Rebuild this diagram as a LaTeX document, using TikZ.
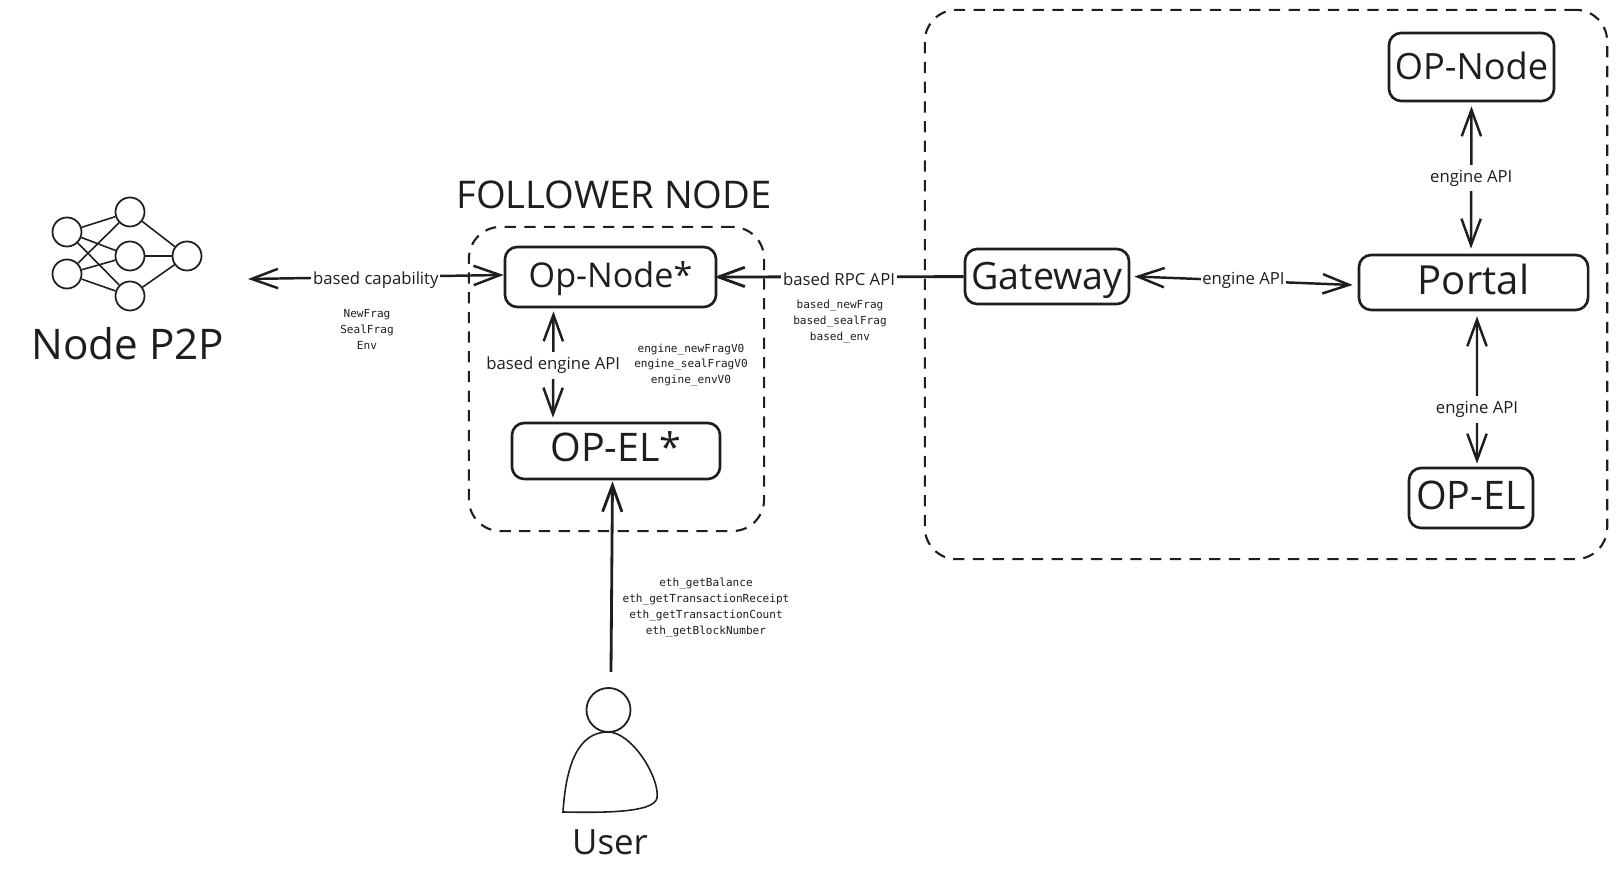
\documentclass[tikz,border=0pt]{standalone}
\usepackage{fontspec}
\setmainfont{Open Sans}
\setmonofont{DejaVu Sans Mono}
\usetikzlibrary{arrows.meta}
\definecolor{inkcolour}{HTML}{1E1E1E}

\begin{document}
\begin{tikzpicture}[
    x=0.01cm, y=-0.01cm,
    box/.style={
        rectangle,
        draw=inkcolour, line width=0.75pt, rounded corners=3.5pt,
        text=inkcolour, inner sep=0pt, text depth=0pt
    },
    group/.style={
        rectangle,
        draw=inkcolour, line width=0.6pt, rounded corners=9pt,
        dash pattern=on 3.2pt off 2.4pt, inner sep=0pt
    },
    neuron/.style={
        circle,
        draw=inkcolour, line width=0.5pt,
        minimum size=0.29cm, inner sep=0pt
    },
    wire/.style={line width=0.45pt, color=inkcolour},
    flow/.style={
        {Straight Barb[length=7.5pt, width=5.5pt]}-{Straight Barb[length=7.5pt, width=5.5pt]},
        line width=0.7pt, color=inkcolour
    },
    upflow/.style={
        -{Straight Barb[length=7.5pt, width=5.5pt]},
        line width=0.8pt, color=inkcolour
    },
    lbl/.style={
        font=\fontsize{4.75}{6}\selectfont, text=inkcolour, fill=white,
        inner xsep=0.5pt, inner ysep=1.5pt, yshift=-0.02cm
    },
    calls/.style={
        font=\ttfamily\fontsize{3.15}{4.5}\selectfont, text=inkcolour,
        align=center, inner sep=0pt
    },
    title/.style={text=inkcolour, inner sep=0pt, font=\fontsize{10.85}{13}\selectfont}
]
\useasboundingbox (0,0) rectangle (1617,883);

%% ── Groups ───────────────────────────────────────────────────────────────────
\node[group, minimum width=2.95cm, minimum height=3.04cm] (follower) at (616.5, 379) {};
\node[group, minimum width=6.82cm, minimum height=5.49cm] (cluster)  at (1266, 284.5) {};
\node[title] (followerlbl) at (614, 195) {FOLLOWER NODE};

%% ── Boxes ────────────────────────────────────────────────────────────────────
\node[box, minimum width=2.11cm, minimum height=0.60cm, text height=5.7pt, font=\fontsize{9.7}{12}\selectfont]
    (opnode)  at (610.5, 277)   {Op-Node*};
\node[box, minimum width=2.08cm, minimum height=0.56cm, text height=6.2pt, font=\fontsize{11.2}{12}\selectfont]
    (opel)    at (616, 451)     {OP-EL*};
\node[box, minimum width=1.64cm, minimum height=0.55cm, text height=7.6pt, font=\fontsize{10.7}{12}\selectfont]
    (gateway) at (1047, 276.5)  {Gateway};
\node[box, minimum width=2.29cm, minimum height=0.55cm, text height=7pt, font=\fontsize{11.4}{12}\selectfont]
    (portal)  at (1473.5, 282.5) {Portal};
\node[box, minimum width=1.65cm, minimum height=0.68cm, text height=7pt, font=\fontsize{10.3}{12}\selectfont]
    (seqnode) at (1471.5, 67)   {OP-Node};
\node[box, minimum width=1.24cm, minimum height=0.60cm, text height=6.3pt, font=\fontsize{11.2}{12}\selectfont]
    (seqel)   at (1471, 498)    {OP-EL};

%% ── Neural net ───────────────────────────────────────────────────────────────
\node[neuron] (inA)  at (67, 232)  {};
\node[neuron] (inB)  at (67, 274)  {};
\node[neuron] (midA) at (130, 212) {};
\node[neuron] (midB) at (130, 256) {};
\node[neuron] (midC) at (130, 296) {};
\node[neuron] (outA) at (187, 256) {};
\foreach \from/\to in {inA/midA, inA/midB, inA/midC, inB/midA, inB/midB, inB/midC,
                       midA/outA, midB/outA, midC/outA}
    \draw[wire] (\from) -- (\to);
\node[title, font=\fontsize{12}{14}\selectfont] (p2plbl) at (128, 344) {Node P2P};

%% ── User ─────────────────────────────────────────────────────────────────────
\node[neuron, minimum size=0.44cm] (head) at (608.5, 710) {};
\draw[wire] (563, 812) .. controls (566, 765) and (578, 732) .. (608, 732)
            .. controls (632, 732) and (660, 778) .. (657, 798)
            .. controls (654, 812) and (610, 813) .. (563, 812) -- cycle;
\node[title, font=\fontsize{9.9}{12}\selectfont] (userlbl) at (610, 842) {User};

%% ── Arrows ───────────────────────────────────────────────────────────────────
\coordinate (p2pport) at (248, 279);
\coordinate (usertop) at (611, 672);
\draw[flow] (p2pport) -- node[lbl, pos=0.5, yshift=-0.01cm] (capability) {based capability} ([yshift=0.02cm]opnode.west);
\draw[upflow] (gateway) -- node[lbl, pos=0.5] (rpc) {based RPC API} ([xshift=-0.03cm]opnode.east);
\draw[flow] ([xshift=-0.57cm, yshift=-0.03cm]opnode.south) -- node[lbl, pos=0.49] (bengine) {based engine API}
            ([xshift=-0.63cm, yshift=0.04cm]opel.north);
\draw[upflow] (usertop) -- ([xshift=-0.035cm, yshift=-0.01cm]opel.south);
\draw[flow] ([xshift=0.04cm]gateway.east) -- node[lbl, pos=0.5, yshift=0.02cm] (gwengine) {engine API} ([xshift=-0.05cm, yshift=-0.025cm]portal.west);
\draw[flow] ([yshift=-0.04cm]seqnode.south) -- node[lbl, pos=0.49] (topengine) {engine API} ([xshift=-0.025cm, yshift=0.05cm]portal.north);
\draw[flow] ([xshift=0.035cm, yshift=-0.05cm]portal.south) -- node[lbl, pos=0.62] (lowengine) {engine API} ([xshift=0.06cm, yshift=0.03cm]seqel.north);

%% ── Method lists ─────────────────────────────────────────────────────────────
\node[calls] (fraglist)   at (367, 329.5) {NewFrag\\SealFrag\\Env};
\node[calls] (enginelist) at (691, 365)   {engine\_newFragV0\\engine\_sealFragV0\\engine\_envV0};
\node[calls] (rpclist)    at (840, 321.5) {based\_newFrag\\based\_sealFrag\\based\_env};
\node[calls] (ethlist)    at (706, 607.5) {eth\_getBalance\\eth\_getTransactionReceipt\\eth\_getTransactionCount\\eth\_getBlockNumber};

\end{tikzpicture}
\end{document}
